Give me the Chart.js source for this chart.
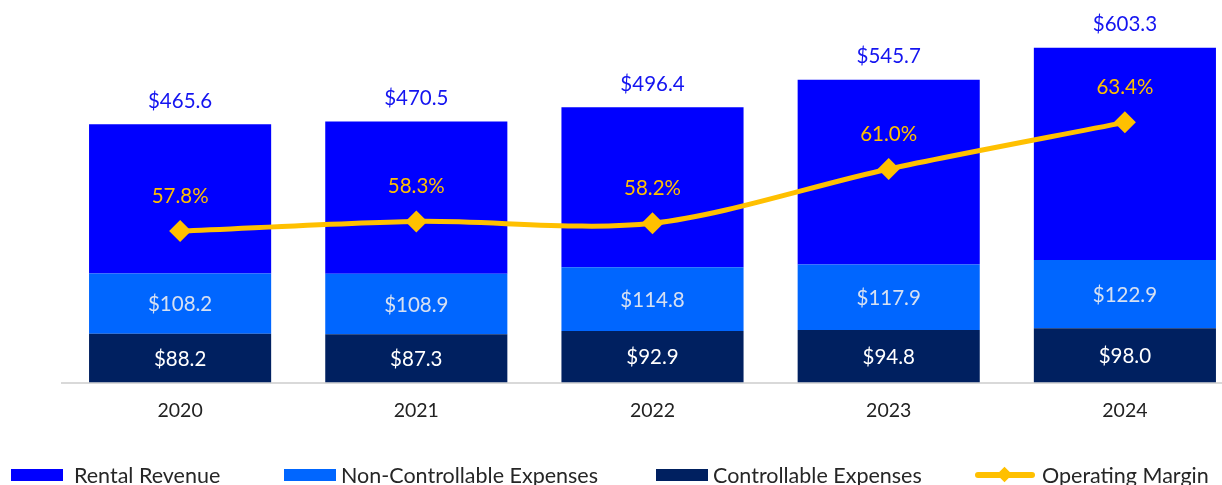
<!DOCTYPE html>
<html>
<head>
<meta charset="utf-8">
<script src="https://cdn.jsdelivr.net/npm/chart.js@4.4.1/dist/chart.umd.min.js"></script>
<style>
  html, body { margin: 0; padding: 0; background: #ffffff; width: 1222px; height: 485px; overflow: hidden; position: relative; }
  #wrap { position: absolute; left: 0; top: 0; width: 1254px; height: 438px; }
  #legend { position: absolute; left: 0; top: 0; width: 1222px; height: 485px; font-family: Lato, sans-serif; font-size: 21.5px; color: #262626; pointer-events: none; }
  .box { position: absolute; top: 469px; width: 52px; height: 12px; }
  .txt { position: absolute; top: 461px; line-height: 28px; white-space: nowrap; }
  .ln { position: absolute; left: 975px; width: 60px; top: 472px; height: 6px; background: #FFC000; border-radius: 3px; }
  .dm { position: absolute; left: 999px; top: 469px; width: 11px; height: 11px; background: #FFC000; transform: rotate(45deg); }
</style>
</head>
<body>
<div id="wrap"><canvas id="c" width="1254" height="438"></canvas></div>
<div id="legend">
  <div class="box" style="left:11px;background:#0000FF"></div><span class="txt" style="left:74px">Rental Revenue</span>
  <div class="box" style="left:284px;background:#0066FF"></div><span class="txt" style="left:341px">Non-Controllable Expenses</span>
  <div class="box" style="left:656px;background:#002060"></div><span class="txt" style="left:713px">Controllable Expenses</span>
  <div class="ln"></div><div class="dm"></div><span class="txt" style="left:1042px">Operating Margin</span>
</div>
<script>
const years = ['2020', '2021', '2022', '2023', '2024'];
const rentalRevenue = [465.6, 470.5, 496.4, 545.7, 603.3];
const nonControllable = [108.2, 108.9, 114.8, 117.9, 122.9];
const controllable = [88.2, 87.3, 92.9, 94.8, 98.0];
const operatingMargin = [57.8, 58.3, 58.2, 61.0, 63.4];

// Rental revenue bar shows the total; the visible top segment is the remainder above the expense segments
const rentalSegment = rentalRevenue.map((t, i) => +(t - controllable[i] - nonControllable[i]).toFixed(1));

const FONT = 'Lato, sans-serif';

const labelPlugin = {
  id: 'valueLabels',
  afterDatasetsDraw(chart) {
    const ctx = chart.ctx;
    ctx.save();
    ctx.textAlign = 'center';
    ctx.textBaseline = 'middle';
    ctx.font = '20.5px ' + FONT;
    const mCtrl = chart.getDatasetMeta(0);
    const mNon = chart.getDatasetMeta(1);
    const mRent = chart.getDatasetMeta(2);
    const mLine = chart.getDatasetMeta(3);
    for (let i = 0; i < years.length; i++) {
      let b = mCtrl.data[i];
      ctx.fillStyle = '#FFFFFF';
      ctx.fillText('$' + controllable[i].toFixed(1), b.x, (b.y + b.base) / 2 + 1);
      b = mNon.data[i];
      ctx.fillStyle = '#D6E0F2';
      ctx.fillText('$' + nonControllable[i].toFixed(1), b.x, (b.y + b.base) / 2 + 1);
      b = mRent.data[i];
      ctx.fillStyle = '#1414F0';
      ctx.fillText('$' + rentalRevenue[i].toFixed(1), b.x, b.y - 23);
      const p = mLine.data[i];
      ctx.fillStyle = '#FFC000';
      ctx.fillText(operatingMargin[i].toFixed(1) + '%', p.x, p.y - 35);
    }
    ctx.restore();
  }
};

new Chart(document.getElementById('c'), {
  type: 'bar',
  data: {
    labels: years,
    datasets: [
      { label: 'Controllable Expenses', data: controllable, backgroundColor: '#002060', yAxisID: 'y', order: 1, barPercentage: 0.771, categoryPercentage: 1 },
      { label: 'Non-Controllable Expenses', data: nonControllable, backgroundColor: '#0066FF', yAxisID: 'y', order: 1, barPercentage: 0.771, categoryPercentage: 1 },
      { label: 'Rental Revenue', data: rentalSegment, backgroundColor: '#0000FF', yAxisID: 'y', order: 1, barPercentage: 0.771, categoryPercentage: 1 },
      { type: 'line', label: 'Operating Margin', data: operatingMargin, yAxisID: 'y2', order: 0,
        borderColor: '#FFC000', backgroundColor: '#FFC000', borderWidth: 5, tension: 0.3,
        pointStyle: 'rectRot', pointRadius: 11, pointHoverRadius: 11, pointBorderWidth: 0 }
    ]
  },
  options: {
    responsive: false,
    animation: false,
    events: [],
    layout: { padding: { top: 33, left: 62, right: 0, bottom: 0 } },
    plugins: { legend: { display: false }, tooltip: { enabled: false } },
    scales: {
      x: {
        stacked: true,
        grid: { display: false, drawTicks: false },
        border: { display: true, color: '#D9D9D9', width: 2 },
        ticks: { color: '#222222', font: { family: FONT, size: 19.5 }, padding: 16 }
      },
      y: { stacked: true, display: false, min: 0, max: 630 },
      y2: { display: false, min: 50, max: 68 }
    }
  },
  plugins: [labelPlugin]
});
</script>
</body>
</html>
